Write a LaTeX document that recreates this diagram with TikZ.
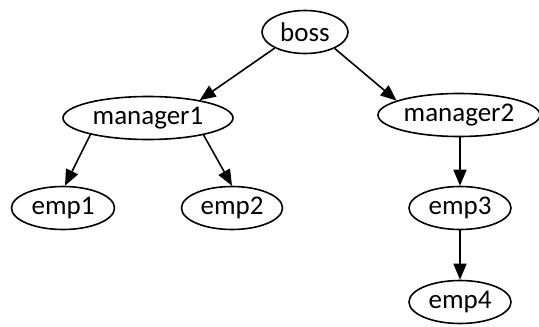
\documentclass[tikz,border=0pt]{standalone}
\usepackage{fontspec}
\setmainfont{Carlito}
\usetikzlibrary{shapes.geometric,arrows.meta}
\begin{document}
\begin{tikzpicture}[x=1pt,y=-1pt,
  ell/.style={ellipse,draw,line width=1.6pt,inner sep=0pt,minimum height=43pt,font=\fontsize{27}{27}\selectfont},
  edge/.style={line width=1.6pt,-{Triangle[length=16pt,width=13pt]}}]
\useasboundingbox (0,0) rectangle (539,327);
\node[ell,minimum width=86pt] (boss) at (305,32) {boss};
\node[ell,minimum width=170pt] (manager1) at (148,118) {manager1};
\node[ell,minimum width=162pt] (manager2) at (459,115) {manager2};
\node[ell,minimum width=103pt] (emp1) at (63,208) {emp1};
\node[ell,minimum width=101pt] (emp2) at (232,208) {emp2};
\node[ell,minimum width=102pt] (emp3) at (460,208) {emp3};
\node[ell,minimum width=102pt] (emp4) at (460,302) {emp4};
\draw[edge] (boss.208) -- (manager1.19);
\draw[edge] (boss.-29) -- (manager2.167);
\draw[edge] (manager1.196) -- (emp1.85);
\draw[edge] (manager1.-17) -- (emp2.90);
\draw[edge] (manager2.south -| emp3.north) -- (emp3.north);
\draw[edge] (emp3) -- (emp4);
\end{tikzpicture}
\end{document}
